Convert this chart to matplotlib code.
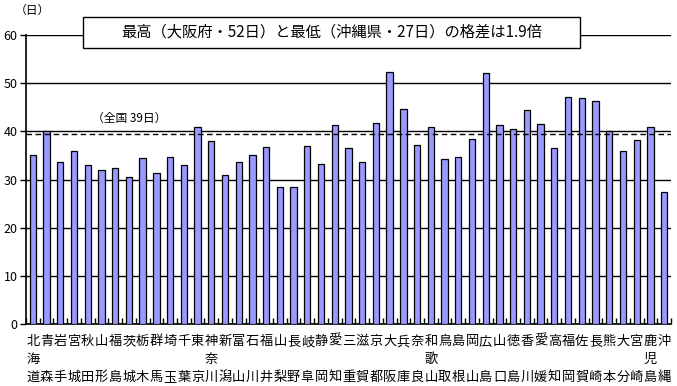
import numpy as np
import matplotlib
matplotlib.use('Agg')
import matplotlib.pyplot as plt
from matplotlib.patches import Rectangle

plt.rcParams['font.family'] = ['Noto Sans CJK JP', 'DejaVu Sans']

prefectures = ['北海道', '青森', '岩手', '宮城', '秋田', '山形', '福島', '茨城',
               '栃木', '群馬', '埼玉', '千葉', '東京', '神奈川', '新潟', '富山',
               '石川', '福井', '山梨', '長野', '岐阜', '静岡', '愛知', '三重',
               '滋賀', '京都', '大阪', '兵庫', '奈良', '和歌山', '鳥取', '島根',
               '岡山', '広島', '山口', '徳島', '香川', '愛媛', '高知', '福岡',
               '佐賀', '長崎', '熊本', '大分', '宮崎', '鹿児島', '沖縄']
days = [35.1, 40.1, 33.6, 35.9, 33.0, 32.0, 32.4, 30.5, 34.4, 31.3, 34.6, 33.0,
        41.0, 38.0, 30.9, 33.6, 35.1, 36.8, 28.5, 28.4, 36.9, 33.2, 41.3, 36.5,
        33.6, 41.7, 52.3, 44.7, 37.1, 41.0, 34.2, 34.6, 38.4, 52.1, 41.3, 40.5,
        44.4, 41.5, 36.5, 47.1, 46.9, 46.3, 40.1, 35.9, 38.2, 41.0, 27.4]
national_avg = 39.4
title = '最高（大阪府・52日）と最低（沖縄県・27日）の格差は1.9倍'
avg_label = '（全国 39日）'
y_ticks = [0, 10, 20, 30, 40, 50, 60]


def stacked_label(name):
    # 縦書き: 1文字目 / 中 / 最後の文字
    if len(name) == 3:
        return '\n'.join(name)
    return name[0] + '\n\n' + name[-1]


fig = plt.figure(figsize=(6.77, 3.86), dpi=100)
ax = fig.add_axes([0.0384, 0.1606, 0.9527, 0.7487])

x = np.arange(len(prefectures))
ax.bar(x, days, width=0.46, color='#9999ff', edgecolor='black', linewidth=0.9, zorder=3)

ax.set_xlim(-0.5, len(prefectures) - 0.5)
ax.set_ylim(0, 60)
ax.set_yticks(y_ticks)
ax.set_yticklabels([str(v) for v in y_ticks], fontsize=9)
ax.yaxis.grid(True, color='black', linewidth=1, zorder=1)
ax.tick_params(axis='y', length=4, width=1, pad=2)

ax.set_xticks(x)
ax.set_xticklabels([stacked_label(p) for p in prefectures], fontsize=9.5,
                   linespacing=1.5, va='top')
ax.tick_params(axis='x', which='major', length=0, pad=8)
ax.set_xticks(np.arange(-0.5, len(prefectures), 1), minor=True)
ax.tick_params(axis='x', which='minor', direction='in', length=4, width=1)

ax.spines['right'].set_visible(False)
ax.spines['top'].set_visible(False)
for side in ['left', 'bottom']:
    ax.spines[side].set_linewidth(1.2)

ax.axhline(national_avg, color='black', linestyle=(0, (4, 2.5)), linewidth=1, zorder=4)
ax.text(4.3, 42.6, avg_label, fontsize=8.5, va='center', ha='left')

fig.text(0.022, 0.972, '（日）', fontsize=8.5, va='center', ha='left')

fig.patches.append(Rectangle((0.1226, 0.8756), 0.734, 0.0803, transform=fig.transFigure,
                             facecolor='white', edgecolor='black', linewidth=1, zorder=5))
fig.text(0.4897, 0.9158, title, fontsize=11, va='center', ha='center', zorder=6)

fig.savefig('out.png', dpi=100)
